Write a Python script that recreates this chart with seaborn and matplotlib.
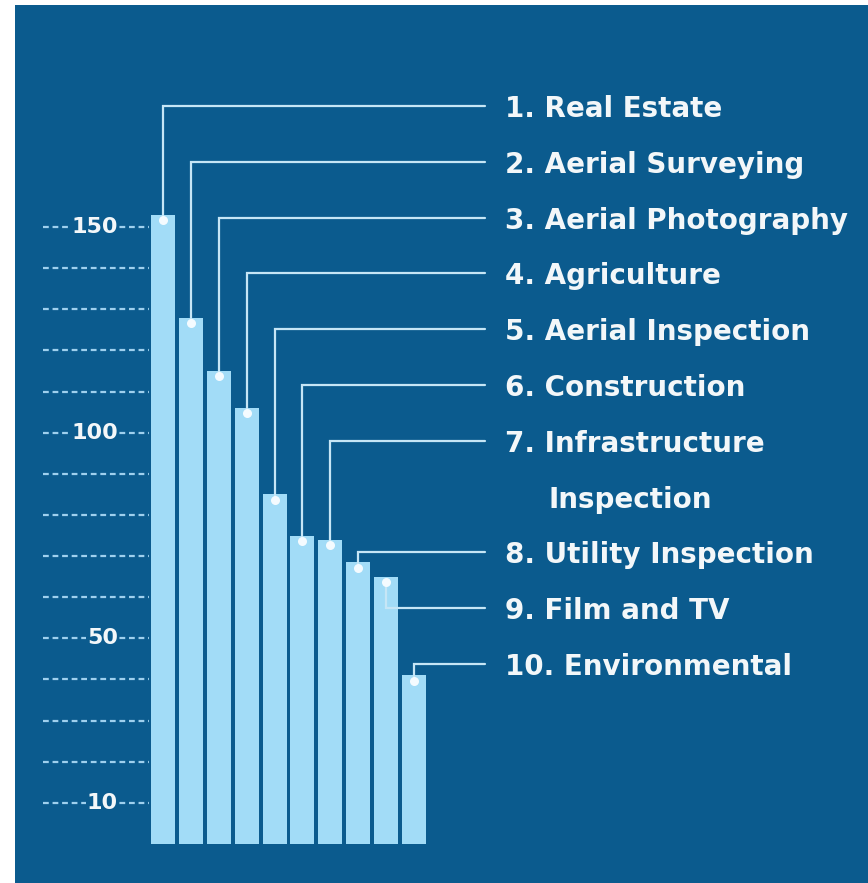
import numpy as np
import seaborn as sns
import matplotlib.pyplot as plt
from matplotlib.patches import Rectangle

# data
categories = ["Real Estate", "Aerial Surveying", "Aerial Photography", "Agriculture",
              "Aerial Inspection", "Construction", "Infrastructure Inspection",
              "Utility Inspection", "Film and TV", "Environmental"]
values = [153, 128, 115, 106, 85, 75, 74, 68.5, 65, 41]
label_text = ["1. Real Estate", "2. Aerial Surveying", "3. Aerial Photography",
              "4. Agriculture", "5. Aerial Inspection", "6. Construction",
              "7. Infrastructure", "8. Utility Inspection", "9. Film and TV",
              "10. Environmental"]
grid_ticks = list(range(10, 160, 10))
labeled_ticks = [150, 100, 50, 10]

BG = "#0b5b8e"
BAR = "#a2dcf7"
LINE = "#c6e6f6"
TXT = "#f3f7f9"

sns.set_style("white")
plt.rcParams["font.family"] = ["DejaVu Sans"]

fig = plt.figure(figsize=(8.68, 8.83), dpi=100, facecolor="white")
bg = Rectangle((15 / 868, 0), 1 - 15 / 868, 1 - 5 / 883,
               transform=fig.transFigure, facecolor=BG, edgecolor="none", zorder=-10)
fig.patches.append(bg)
ax = fig.add_axes([0, 0, 1, 1])
ax.set_facecolor("none")

sns.barplot(x=categories, y=values, color=BAR, saturation=1, width=0.86,
            edgecolor="none", linewidth=0, ax=ax, zorder=2)

ax.set_xlim(-5.845, 25.28)
ax.set_ylim(-9.48, 205.2)
ax.axis("off")

# dashed scale on the left
for t in grid_ticks:
    ax.plot([-4.30, -0.5], [t, t], color="#9fd0ee", lw=1.6,
            ls=(0, (2.6, 1.7)), zorder=1, solid_capstyle="butt")
for t in labeled_ticks:
    ax.text(-1.61, t, str(t), ha="right", va="center", fontsize=16,
            fontweight="bold", color=TXT, zorder=3,
            bbox=dict(boxstyle="square,pad=0.05", fc=BG, ec="none"))

# labels with elbow connectors
x_text = 12.26
x_end = 11.545
top_y = 179.4
step = 13.56
fs = 20
for i, (v, lab) in enumerate(zip(values, label_text)):
    slot = i + (1 if i >= 7 else 0)
    ly = top_y - step * slot
    dot_y = v - 1.3
    ax.plot([i, i, x_end], [dot_y, ly, ly], color=LINE, lw=1.6, zorder=3,
            solid_joinstyle="miter")
    ax.plot(i, dot_y, "o", ms=6.5, color="#f4fbff", mec="none", zorder=4)
    ax.text(x_text, ly, lab, ha="left", va="center_baseline", fontsize=fs,
            fontweight="bold", color=TXT)
    if i == 6:
        ax.text(x_text + 1.55, top_y - step * 7, "Inspection", ha="left",
                va="center_baseline", fontsize=fs, fontweight="bold", color=TXT)

plt.savefig("out.png", dpi=100, facecolor="white")
